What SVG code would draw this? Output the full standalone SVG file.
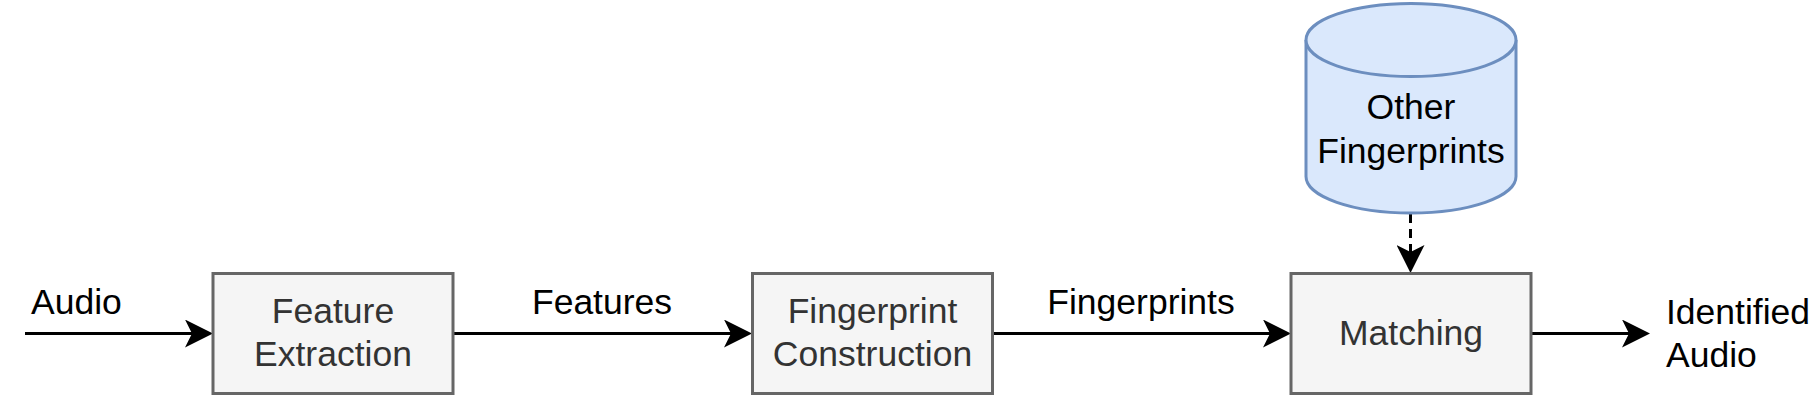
<svg xmlns="http://www.w3.org/2000/svg" width="1817" height="400" viewBox="0 0 1817 400">
<style>
.box{fill:#f5f5f5;stroke:#666666;stroke-width:3}
.db{fill:#dae8fc;stroke:#6c8ebf;stroke-width:3}
.edge{fill:none;stroke:#000;stroke-width:3}
.dash{stroke-dasharray:9 6}
.t{font-family:"Liberation Sans",Arial,Helvetica,sans-serif;font-size:35.5px}
.nt{fill:#333333;text-anchor:middle}
.lbl{fill:#000}
</style>
<defs>
<marker id="arr" markerUnits="userSpaceOnUse" viewBox="0 0 28 28" markerWidth="28" markerHeight="28" refX="16" refY="14" orient="auto">
<path d="M0,0 L28,14 L0,28 L7,14 Z" fill="#000"/>
</marker>
</defs>
<rect width="1817" height="400" fill="#fff"/>
<g id="connectors">
<line class="edge" x1="25" y1="333.5" x2="201" y2="333.5" marker-end="url(#arr)"/>
<line class="edge" x1="453" y1="333.5" x2="740" y2="333.5" marker-end="url(#arr)"/>
<line class="edge" x1="993" y1="333.5" x2="1279" y2="333.5" marker-end="url(#arr)"/>
<line class="edge" x1="1531" y1="333.5" x2="1638" y2="333.5" marker-end="url(#arr)"/>
<line class="edge dash" x1="1410.5" y1="214" x2="1410.5" y2="261" marker-end="url(#arr)"/>
</g>
<g id="labels">
<text class="t lbl" x="31" y="314">Audio</text>
<text class="t lbl" x="602" y="314" text-anchor="middle">Features</text>
<text class="t lbl" x="1141" y="314" text-anchor="middle">Fingerprints</text>
<text class="t lbl" x="1666" y="324">Identified</text>
<text class="t lbl" x="1666" y="367">Audio</text>
</g>
<g id="feature-extraction">
<rect class="box" x="213" y="273.5" width="240" height="120"/>
<text class="t nt" x="333" y="323">Feature</text>
<text class="t nt" x="333" y="366">Extraction</text>
</g>
<g id="fingerprint-construction">
<rect class="box" x="752.5" y="273.5" width="240" height="120"/>
<text class="t nt" x="872.5" y="323">Fingerprint</text>
<text class="t nt" x="872.5" y="366">Construction</text>
</g>
<g id="matching">
<rect class="box" x="1291" y="273.5" width="240" height="120"/>
<text class="t nt" x="1411" y="345">Matching</text>
</g>
<g id="other-fingerprints">
<path class="db" d="M1306,40 A105,36.5 0 0 1 1516,40 L1516,176.5 A105,36.5 0 0 1 1306,176.5 Z"/>
<path class="db" d="M1306,40 A105,36.5 0 0 0 1516,40" fill="none"/>
<text class="t lbl" x="1411" y="119" text-anchor="middle">Other</text>
<text class="t lbl" x="1411" y="163" text-anchor="middle">Fingerprints</text>
</g>
</svg>
